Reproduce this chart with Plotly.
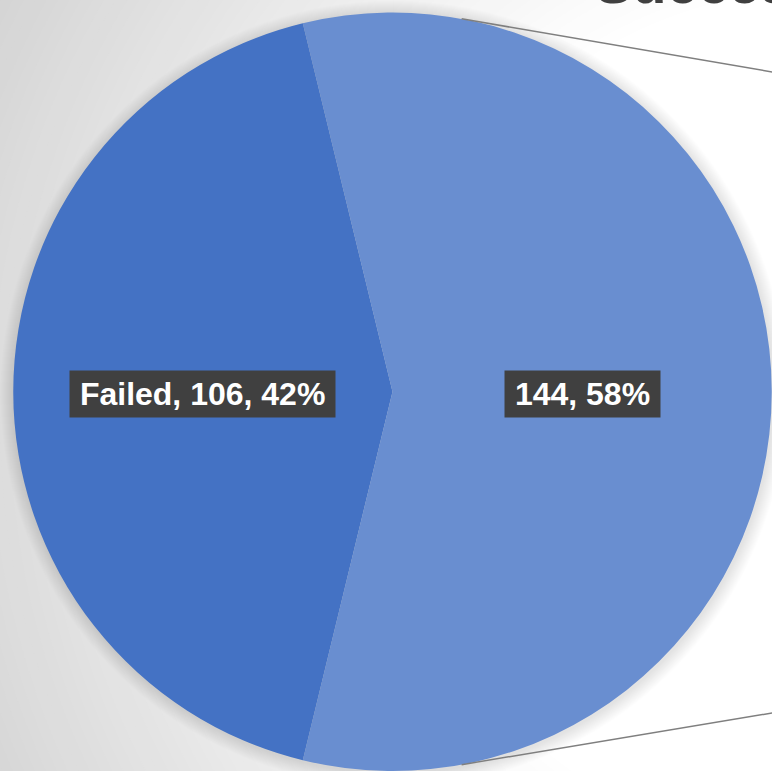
import math
import plotly.graph_objects as go

# ---- data ----
categories = ["Succeeded", "Failed"]
counts = [144, 106]
shown_names = ["", "Failed"]          # the succeeded label shows no category name
slice_colors = ["#698ED0", "#4472C4"]
title_text = "Success Rate"

W, H = 772, 771
total = sum(counts)
pcts = [round(100 * c / total) for c in counts]

# pie placement (pixels)
dom_x = [13 / W, 1.0]
dom_y = [0.0, 1 - 12.5 / H]
R = min((dom_x[1] - dom_x[0]) * W, (dom_y[1] - dom_y[0]) * H) / 2
cx = (dom_x[0] + dom_x[1]) / 2 * W
cy = (1 - (dom_y[0] + dom_y[1]) / 2) * H

# first slice centred on 3 o'clock
rotation = 90 - 180 * counts[0] / total

fig = go.Figure(go.Pie(
    labels=categories,
    values=counts,
    sort=False,
    direction="clockwise",
    rotation=rotation,
    marker=dict(colors=slice_colors, line=dict(width=0)),
    textinfo="none",
    hoverinfo="label+value+percent",
    domain=dict(x=dom_x, y=dom_y),
    showlegend=False,
))

shapes = []

def circ(px, py, r, color, opacity=1.0):
    return dict(type="circle", xref="paper", yref="paper", layer="below",
                x0=(px - r) / W, x1=(px + r) / W,
                y0=1 - (py + r) / H, y1=1 - (py - r) / H,
                fillcolor=color, line=dict(width=0), opacity=opacity)

# background radial gradient (grey left -> white right)
gx, gy = 820, 420
r_out, r_in = 930, 430
g_lo = 212
steps = 50
for i in range(steps + 1):
    r = r_out - (r_out - r_in) * i / steps
    v = int(round(g_lo + (255 - g_lo) * i / steps))
    shapes.append(circ(gx, gy, r, f"rgb({v},{v},{v})"))

# soft shadow around pie
for k in range(14, 0, -1):
    shapes.append(circ(cx + 1, cy + 2, R + k, "black", 0.009))

# connector lines to the (off-screen) secondary chart
def pt(deg, rr):
    a = math.radians(deg)
    return cx + rr * math.sin(a), cy - rr * math.cos(a)

for x0p, y0p, x1p, y1p in [(*pt(10.5, R), 790, 75), (*pt(169.5, R), 790, 710)]:
    shapes.append(dict(type="line", xref="paper", yref="paper", layer="above",
                       x0=x0p / W, y0=1 - y0p / H, x1=x1p / W, y1=1 - y1p / H,
                       line=dict(color="#7F7F7F", width=1.5)))

annotations = []

# data labels: boxed, at half radius along slice mid-angle
start = rotation
for name, c, p in zip(shown_names, counts, pcts):
    span = 360 * c / total
    mid = start + span / 2
    start += span
    px, py = pt(mid, 0.5 * R)
    txt = f"{name}, {c}, {p}%" if name else f"{c}, {p}%"
    txt = "\u00a0" + txt + "\u00a0"
    annotations.append(dict(x=px / W, y=1 - py / H, xref="paper", yref="paper",
                            xanchor="center", yanchor="middle", showarrow=False,
                            yshift=-2, height=44, valign="middle",
                            text=txt, borderpad=1, bgcolor="#404040",
                            font=dict(family="Arial, Liberation Sans", size=32,
                                      color="white", weight="bold")))

# title (mostly cropped off the top)
annotations.append(dict(text=title_text, x=593 / W, y=1 - 17 / H,
                        xref="paper", yref="paper", xanchor="left", yanchor="bottom",
                        showarrow=False,
                        font=dict(family="Arial, Liberation Sans", size=56,
                                  color="#404040", weight="bold")))

fig.update_layout(
    width=W, height=H,
    margin=dict(l=0, r=0, t=0, b=0),
    paper_bgcolor=f"rgb({g_lo},{g_lo},{g_lo})",
    plot_bgcolor="white",
    shapes=shapes,
    annotations=annotations,
)

fig.write_html("out.html",
               config={"displayModeBar": False},
               post_script="document.body.style.margin='0px';document.body.style.overflow='hidden';")
